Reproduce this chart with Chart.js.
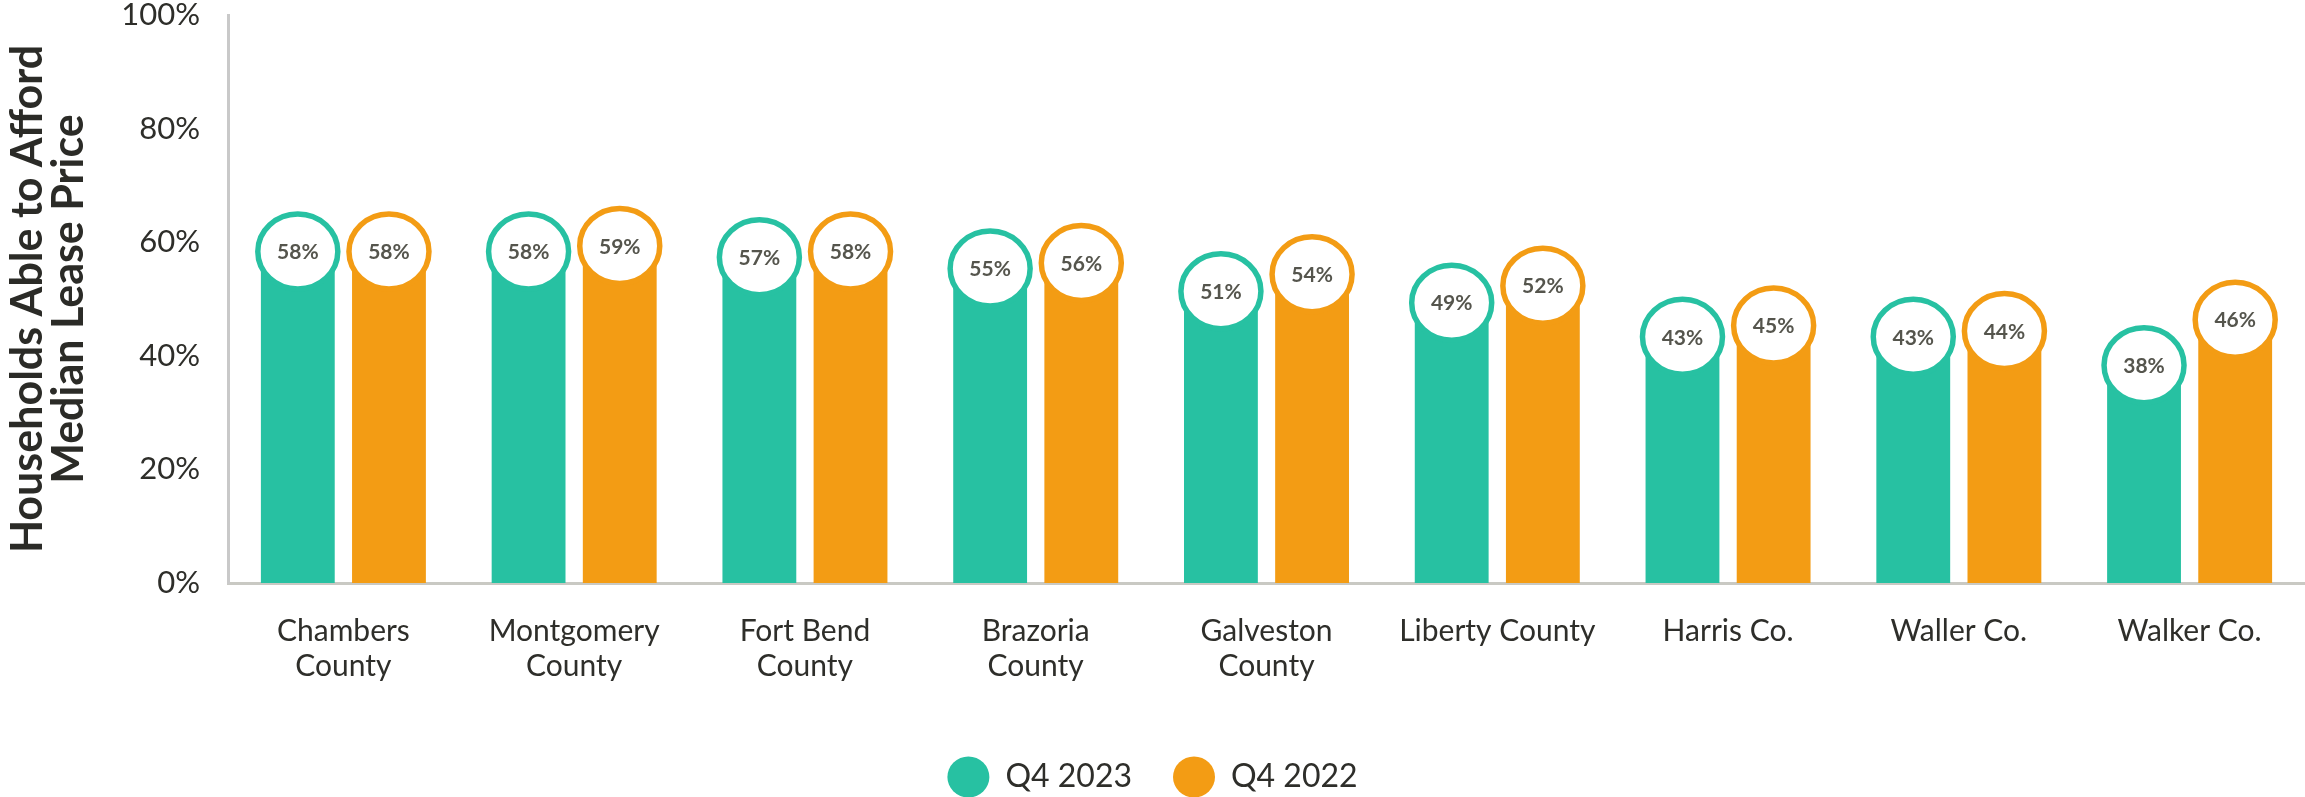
<!DOCTYPE html>
<html>
<head>
<meta charset="utf-8">
<script src="https://cdn.jsdelivr.net/npm/chart.js@4/dist/chart.umd.min.js"></script>
<style>
  html, body { margin: 0; padding: 0; background: #fff; }
  #wrap { width: 2305px; height: 797px; position: relative; }
</style>
</head>
<body>
<div id="wrap"><canvas id="affordChart"></canvas></div>
<script>
(() => {
    // data
    const categories = [
        ['Chambers', 'County'],
        ['Montgomery', 'County'],
        ['Fort Bend', 'County'],
        ['Brazoria', 'County'],
        ['Galveston', 'County'],
        'Liberty County',
        'Harris Co.',
        'Waller Co.',
        'Walker Co.'
    ];
    const q4_2023 = [58, 58, 57, 55, 51, 49, 43, 43, 38];
    const q4_2022 = [58, 59, 58, 56, 54, 52, 45, 44, 46];
    const yTicks = [0, 20, 40, 60, 80, 100];

    const TEAL = '#27C1A2';
    const ORANGE = '#F39C14';

    Chart.defaults.font.family = 'Lato, "Open Sans", sans-serif';

    // white bubble with ring + value on top of every bar
    const bubblePlugin = {
        id: 'bubbles',
        afterDatasetsDraw(chart) {
            const { ctx } = chart;
            ctx.save();
            chart.data.datasets.forEach((ds, di) => {
                const meta = chart.getDatasetMeta(di);
                meta.data.forEach((bar, i) => {
                    const cy = bar.y - 2;
                    ctx.beginPath();
                    ctx.ellipse(bar.x, cy, 40, 37.5, 0, 0, Math.PI * 2);
                    ctx.fillStyle = '#fff';
                    ctx.fill();
                    ctx.lineWidth = 5.5;
                    ctx.strokeStyle = ds.backgroundColor;
                    ctx.stroke();

                    ctx.font = 'bold 21px Lato, sans-serif';
                    ctx.fillStyle = '#55554d';
                    ctx.textAlign = 'center';
                    ctx.textBaseline = 'middle';
                    ctx.fillText(ds.data[i] + '%', bar.x, cy + 1);
                });
            });
            ctx.restore();
        }
    };

    new Chart(document.getElementById('affordChart'), {
        type: 'bar',
        data: {
            labels: categories,
            datasets: [
                { label: 'Q4 2023', data: q4_2023, backgroundColor: TEAL, borderWidth: 0 },
                { label: 'Q4 2022', data: q4_2022, backgroundColor: ORANGE, borderWidth: 0 }
            ]
        },
        options: {
            responsive: true,
            maintainAspectRatio: false,
            animation: false,
            layout: { padding: { left: 0, right: 0, top: 15, bottom: -6 } },
            datasets: {
                bar: { categoryPercentage: 0.79, barPercentage: 0.81 }
            },
            scales: {
                x: {
                    grid: { display: false, drawTicks: false },
                    border: { display: true, color: '#c9c9c3', width: 3 },
                    ticks: {
                        autoSkip: false,
                        maxRotation: 0,
                        padding: 31,
                        color: '#2e2e2a',
                        font: { size: 30, lineHeight: 1.17 }
                    },
                    afterFit(scale) {
                        scale.height = 137;
                        scale.paddingLeft = 0;
                        scale.paddingRight = 0;
                    }
                },
                y: {
                    min: 0,
                    max: 100,
                    afterBuildTicks(scale) {
                        scale.ticks = yTicks.map(v => ({ value: v }));
                    },
                    grid: { display: false, drawTicks: false },
                    border: { display: true, color: '#c9c9c9', width: 3 },
                    ticks: {
                        padding: 28,
                        color: '#2e2e2a',
                        font: { size: 31 },
                        callback: v => v + '%'
                    },
                    title: {
                        display: true,
                        text: ['Households Able to Afford', 'Median Lease Price'],
                        color: '#2b2b27',
                        font: { size: 43, weight: 'bold', lineHeight: 0.96 },
                        padding: { top: 7, bottom: 0 }
                    },
                    afterFit(scale) {
                        scale.width = 228;
                        scale.paddingTop = 0;
                        scale.paddingBottom = 0;
                    }
                }
            },
            plugins: {
                legend: {
                    position: 'bottom',
                    labels: {
                        usePointStyle: true,
                        pointStyle: 'circle',
                        pointStyleWidth: 42,
                        boxHeight: 29,
                        padding: 41,
                        color: '#2e2e2a',
                        font: { size: 32 }
                    }
                },
                tooltip: { enabled: false }
            }
        },
        plugins: [bubblePlugin]
    });
})();
</script>
</body>
</html>
